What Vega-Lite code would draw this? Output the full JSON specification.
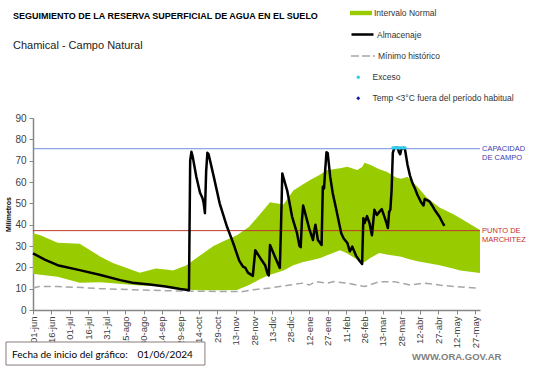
{
  "$schema": "https://vega.github.io/schema/vega-lite/v6.json",
  "autosize": {"type": "none"},
  "padding": {"left": 33, "top": 118, "right": 61, "bottom": 58},
  "width": 447,
  "height": 192,
  "background": "white",
  "config": {
    "view": {"stroke": null},
    "font": "Liberation Sans"
  },
  "title": {
    "text": "SEGUIMIENTO DE LA RESERVA  SUPERFICIAL DE AGUA EN EL SUELO",
    "subtitle": "Chamical - Campo Natural",
    "anchor": "start",
    "frame": "group",
    "dx": -20,
    "offset": -49,
    "font": "Liberation Sans",
    "fontSize": 9,
    "fontWeight": "bold",
    "color": "#000000",
    "subtitleFont": "Liberation Sans",
    "subtitleFontSize": 11,
    "subtitleColor": "#222222",
    "subtitlePadding": 19
  },
  "resolve": {"scale": {"color": "independent"}, "legend": {"color": "independent"}},
  "layer": [
    {
      "data": {
        "values": [
          {"fecha": "2024-06-01", "sup": 36, "inf": 17},
          {"fecha": "2024-06-07", "sup": 35, "inf": 16.5},
          {"fecha": "2024-06-21", "sup": 31.5, "inf": 15.6},
          {"fecha": "2024-07-09", "sup": 31, "inf": 12.8},
          {"fecha": "2024-07-26", "sup": 25, "inf": 13},
          {"fecha": "2024-08-05", "sup": 22, "inf": 12.5},
          {"fecha": "2024-08-22", "sup": 18.5, "inf": 11.7},
          {"fecha": "2024-08-27", "sup": 17.5, "inf": 11.5},
          {"fecha": "2024-09-09", "sup": 19.5, "inf": 11.2},
          {"fecha": "2024-09-17", "sup": 19, "inf": 11},
          {"fecha": "2024-09-23", "sup": 18.5, "inf": 10.5},
          {"fecha": "2024-10-04", "sup": 21, "inf": 9.5},
          {"fecha": "2024-10-15", "sup": 25.5, "inf": 9.3},
          {"fecha": "2024-10-26", "sup": 30, "inf": 9.2},
          {"fecha": "2024-11-04", "sup": 32.5, "inf": 9.3},
          {"fecha": "2024-11-14", "sup": 35, "inf": 9.4},
          {"fecha": "2024-11-24", "sup": 39, "inf": 11.7},
          {"fecha": "2024-12-03", "sup": 45, "inf": 14.5},
          {"fecha": "2024-12-11", "sup": 50.5, "inf": 16.5},
          {"fecha": "2024-12-22", "sup": 49.5, "inf": 18.5},
          {"fecha": "2024-12-30", "sup": 56, "inf": 21},
          {"fecha": "2025-01-07", "sup": 59, "inf": 22.5},
          {"fecha": "2025-01-13", "sup": 61, "inf": 23.2},
          {"fecha": "2025-01-21", "sup": 63.5, "inf": 24.4},
          {"fecha": "2025-01-26", "sup": 65.5, "inf": 25.5},
          {"fecha": "2025-02-06", "sup": 66.5, "inf": 28},
          {"fecha": "2025-02-12", "sup": 67.2, "inf": 26.5},
          {"fecha": "2025-02-20", "sup": 65.6, "inf": 23.5},
          {"fecha": "2025-02-24", "sup": 67, "inf": 22},
          {"fecha": "2025-02-26", "sup": 69, "inf": 22.5},
          {"fecha": "2025-03-03", "sup": 68, "inf": 24.5},
          {"fecha": "2025-03-10", "sup": 66, "inf": 26.7},
          {"fecha": "2025-03-16", "sup": 64.8, "inf": 26},
          {"fecha": "2025-03-24", "sup": 62, "inf": 25.3},
          {"fecha": "2025-03-28", "sup": 61.5, "inf": 25},
          {"fecha": "2025-04-02", "sup": 62.5, "inf": 24},
          {"fecha": "2025-04-10", "sup": 57.8, "inf": 22.8},
          {"fecha": "2025-04-18", "sup": 52.5, "inf": 22},
          {"fecha": "2025-04-28", "sup": 48, "inf": 21},
          {"fecha": "2025-05-09", "sup": 45, "inf": 19.5},
          {"fecha": "2025-05-15", "sup": 43, "inf": 18.5},
          {"fecha": "2025-05-31", "sup": 37.5, "inf": 17.4}
        ],
        "format": {"parse": {"fecha": "date:'%Y-%m-%d'"}}
      },
      "mark": {"type": "area", "opacity": 1},
      "encoding": {
        "x": {
          "field": "fecha", "type": "temporal",
          "scale": {"domain": [{"year": 2024, "month": 6, "date": 1}, {"year": 2025, "month": 5, "date": 31}]},
          "axis": {
            "title": null,
            "grid": false,
            "tickCount": 40,
            "values": [
              {"year": 2024, "month": 6, "date": 1}, {"year": 2024, "month": 6, "date": 16},
              {"year": 2024, "month": 7, "date": 1}, {"year": 2024, "month": 7, "date": 16},
              {"year": 2024, "month": 7, "date": 31}, {"year": 2024, "month": 8, "date": 15},
              {"year": 2024, "month": 8, "date": 30}, {"year": 2024, "month": 9, "date": 14},
              {"year": 2024, "month": 9, "date": 29}, {"year": 2024, "month": 10, "date": 14},
              {"year": 2024, "month": 10, "date": 29}, {"year": 2024, "month": 11, "date": 13},
              {"year": 2024, "month": 11, "date": 28}, {"year": 2024, "month": 12, "date": 13},
              {"year": 2024, "month": 12, "date": 28}, {"year": 2025, "month": 1, "date": 12},
              {"year": 2025, "month": 1, "date": 27}, {"year": 2025, "month": 2, "date": 11},
              {"year": 2025, "month": 2, "date": 26}, {"year": 2025, "month": 3, "date": 13},
              {"year": 2025, "month": 3, "date": 28}, {"year": 2025, "month": 4, "date": 12},
              {"year": 2025, "month": 4, "date": 27}, {"year": 2025, "month": 5, "date": 12},
              {"year": 2025, "month": 5, "date": 27}
            ],
            "labelExpr": "timeFormat(datum.value, '%d') + '-' + ['ene','feb','mar','abr','may','jun','jul','ago','sep','oct','nov','dic'][month(datum.value)]",
            "labelAngle": -90,
            "labelOverlap": false,
            "labelBound": false,
            "labelFlush": false,
            "labelFont": "Liberation Sans",
            "labelFontSize": 9.5,
            "labelColor": "#404040",
            "labelPadding": 2,
            "tickSize": 4,
            "tickColor": "#868686",
            "domainColor": "#868686",
            "domainWidth": 1.5
          }
        },
        "y": {
          "field": "sup", "type": "quantitative",
          "scale": {"domain": [0, 90], "nice": false, "zero": false},
          "axis": {
            "title": "Milímetros",
            "titleFont": "Liberation Sans",
            "titleFontSize": 7,
            "titleFontWeight": "bold",
            "titleColor": "#000000",
            "titlePadding": 3,
            "grid": false,
            "tickCount": 20,
            "values": [0, 10, 20, 30, 40, 50, 60, 70, 80, 90],
            "labelOverlap": false,
            "labelFont": "Liberation Sans",
            "labelFontSize": 10,
            "labelColor": "#404040",
            "labelPadding": 3,
            "tickSize": 4,
            "tickColor": "#868686",
            "domainColor": "#868686",
            "domainWidth": 1.5
          }
        },
        "y2": {"field": "inf"},
        "color": {
          "datum": "Intervalo Normal",
          "scale": {"range": ["#99cc00"]},
          "legend": {
            "orient": "none", "legendX": 317, "legendY": -116, "title": null, "padding": 0,
            "symbolType": "M-1,-0.2L1,-0.2L1,0.2L-1,0.2Z", "symbolSize": 484, "symbolStrokeWidth": 0,
            "labelFont": "Liberation Sans", "labelFontSize": 8.5, "labelColor": "#333333", "labelOffset": 2
          }
        }
      }
    },
    {
      "data": {
        "values": [
          {"fecha": "2024-06-01", "valor": 10.3},
          {"fecha": "2024-06-06", "valor": 11},
          {"fecha": "2024-06-21", "valor": 11},
          {"fecha": "2024-07-11", "valor": 10.5},
          {"fecha": "2024-07-26", "valor": 10},
          {"fecha": "2024-08-22", "valor": 9.5},
          {"fecha": "2024-09-19", "valor": 9},
          {"fecha": "2024-10-09", "valor": 8.8},
          {"fecha": "2024-11-18", "valor": 8.6},
          {"fecha": "2024-11-26", "valor": 9.4},
          {"fecha": "2024-12-11", "valor": 10.3},
          {"fecha": "2024-12-27", "valor": 11.7},
          {"fecha": "2025-01-07", "valor": 12.6},
          {"fecha": "2025-01-12", "valor": 11.7},
          {"fecha": "2025-01-17", "valor": 13.3},
          {"fecha": "2025-01-27", "valor": 12.6},
          {"fecha": "2025-02-01", "valor": 13.3},
          {"fecha": "2025-02-12", "valor": 12.6},
          {"fecha": "2025-02-26", "valor": 11},
          {"fecha": "2025-03-10", "valor": 13.3},
          {"fecha": "2025-03-22", "valor": 13.3},
          {"fecha": "2025-04-04", "valor": 11.7},
          {"fecha": "2025-04-16", "valor": 12.6},
          {"fecha": "2025-04-28", "valor": 11.7},
          {"fecha": "2025-05-10", "valor": 11},
          {"fecha": "2025-05-29", "valor": 10.3}
        ],
        "format": {"parse": {"fecha": "date:'%Y-%m-%d'"}}
      },
      "mark": {"type": "line", "strokeWidth": 1.5, "strokeDash": [7, 4]},
      "encoding": {
        "x": {"field": "fecha", "type": "temporal"},
        "y": {"field": "valor", "type": "quantitative"},
        "color": {
          "datum": "Mínimo histórico",
          "scale": {"range": ["#a6a6a6"]},
          "legend": {
            "orient": "none", "legendX": 317, "legendY": -75, "title": null, "padding": 0,
            "symbolType": "M-1,0L1,0", "symbolSize": 576, "symbolStrokeWidth": 1.5, "symbolDash": [8, 3],
            "labelFont": "Liberation Sans", "labelFontSize": 8.5, "labelColor": "#333333", "labelOffset": 2
          }
        }
      }
    },
    {
      "data": {"values": [{}]},
      "mark": {"type": "rule", "color": "#7090dd", "strokeWidth": 1},
      "encoding": {"y": {"datum": 75.6}}
    },
    {
      "data": {"values": [{}]},
      "mark": {"type": "rule", "color": "#c0392b", "strokeWidth": 1},
      "encoding": {"y": {"datum": 37.2}}
    },
    {
      "data": {
        "values": [
          {"fecha": "2024-06-01", "valor": 26.5},
          {"fecha": "2024-06-11", "valor": 23.5},
          {"fecha": "2024-06-21", "valor": 21},
          {"fecha": "2024-07-09", "valor": 18.7},
          {"fecha": "2024-07-26", "valor": 16.4},
          {"fecha": "2024-08-11", "valor": 14},
          {"fecha": "2024-08-21", "valor": 12.8},
          {"fecha": "2024-09-04", "valor": 12},
          {"fecha": "2024-09-17", "valor": 11},
          {"fecha": "2024-09-29", "valor": 9.8},
          {"fecha": "2024-10-05", "valor": 9.4},
          {"fecha": "2024-10-06", "valor": 9.3},
          {"fecha": "2024-10-07", "valor": 70},
          {"fecha": "2024-10-08", "valor": 74.2},
          {"fecha": "2024-10-09", "valor": 72},
          {"fecha": "2024-10-12", "valor": 62.5},
          {"fecha": "2024-10-15", "valor": 55},
          {"fecha": "2024-10-17", "valor": 52.5},
          {"fecha": "2024-10-18", "valor": 50},
          {"fecha": "2024-10-19", "valor": 45.4},
          {"fecha": "2024-10-20", "valor": 65},
          {"fecha": "2024-10-21", "valor": 73.7},
          {"fecha": "2024-10-22", "valor": 73},
          {"fecha": "2024-10-26", "valor": 63},
          {"fecha": "2024-10-31", "valor": 50},
          {"fecha": "2024-11-06", "valor": 39},
          {"fecha": "2024-11-11", "valor": 31.4},
          {"fecha": "2024-11-16", "valor": 23},
          {"fecha": "2024-11-19", "valor": 20.3},
          {"fecha": "2024-11-21", "valor": 19.7},
          {"fecha": "2024-11-23", "valor": 17.5},
          {"fecha": "2024-11-27", "valor": 16},
          {"fecha": "2024-11-28", "valor": 22},
          {"fecha": "2024-11-29", "valor": 28},
          {"fecha": "2024-12-03", "valor": 24.4},
          {"fecha": "2024-12-07", "valor": 21},
          {"fecha": "2024-12-09", "valor": 17},
          {"fecha": "2024-12-10", "valor": 16.2},
          {"fecha": "2024-12-11", "valor": 30.5},
          {"fecha": "2024-12-15", "valor": 25},
          {"fecha": "2024-12-19", "valor": 19.7},
          {"fecha": "2024-12-20", "valor": 40},
          {"fecha": "2024-12-21", "valor": 64},
          {"fecha": "2024-12-22", "valor": 62},
          {"fecha": "2024-12-25", "valor": 56},
          {"fecha": "2024-12-29", "valor": 43.7},
          {"fecha": "2025-01-02", "valor": 36},
          {"fecha": "2025-01-04", "valor": 30},
          {"fecha": "2025-01-05", "valor": 29.5},
          {"fecha": "2025-01-06", "valor": 42},
          {"fecha": "2025-01-07", "valor": 49},
          {"fecha": "2025-01-12", "valor": 38},
          {"fecha": "2025-01-15", "valor": 32.8},
          {"fecha": "2025-01-16", "valor": 37},
          {"fecha": "2025-01-17", "valor": 40},
          {"fecha": "2025-01-19", "valor": 32.8},
          {"fecha": "2025-01-22", "valor": 30.5},
          {"fecha": "2025-01-23", "valor": 57.8},
          {"fecha": "2025-01-24", "valor": 57},
          {"fecha": "2025-01-25", "valor": 66},
          {"fecha": "2025-01-26", "valor": 74},
          {"fecha": "2025-01-27", "valor": 73.5},
          {"fecha": "2025-01-29", "valor": 62.5},
          {"fecha": "2025-01-31", "valor": 55},
          {"fecha": "2025-02-03", "valor": 47},
          {"fecha": "2025-02-07", "valor": 36},
          {"fecha": "2025-02-09", "valor": 33.5},
          {"fecha": "2025-02-12", "valor": 31.4},
          {"fecha": "2025-02-14", "valor": 27.5},
          {"fecha": "2025-02-16", "valor": 29.7},
          {"fecha": "2025-02-19", "valor": 25.5},
          {"fecha": "2025-02-22", "valor": 23},
          {"fecha": "2025-02-24", "valor": 21.6},
          {"fecha": "2025-02-25", "valor": 43},
          {"fecha": "2025-02-26", "valor": 40.8},
          {"fecha": "2025-02-28", "valor": 44},
          {"fecha": "2025-03-02", "valor": 40.8},
          {"fecha": "2025-03-04", "valor": 35},
          {"fecha": "2025-03-06", "valor": 47},
          {"fecha": "2025-03-08", "valor": 44.5},
          {"fecha": "2025-03-10", "valor": 46},
          {"fecha": "2025-03-12", "valor": 47.3},
          {"fecha": "2025-03-14", "valor": 44},
          {"fecha": "2025-03-16", "valor": 40.5},
          {"fecha": "2025-03-17", "valor": 38.4},
          {"fecha": "2025-03-18", "valor": 46},
          {"fecha": "2025-03-19", "valor": 47},
          {"fecha": "2025-03-20", "valor": 56},
          {"fecha": "2025-03-21", "valor": 73.6},
          {"fecha": "2025-03-22", "valor": 75.5},
          {"fecha": "2025-03-23", "valor": 76},
          {"fecha": "2025-03-25", "valor": 76},
          {"fecha": "2025-03-26", "valor": 74},
          {"fecha": "2025-03-27", "valor": 73},
          {"fecha": "2025-03-28", "valor": 75.5},
          {"fecha": "2025-03-30", "valor": 76},
          {"fecha": "2025-03-31", "valor": 75},
          {"fecha": "2025-04-02", "valor": 68},
          {"fecha": "2025-04-04", "valor": 63},
          {"fecha": "2025-04-06", "valor": 59.5},
          {"fecha": "2025-04-08", "valor": 57},
          {"fecha": "2025-04-10", "valor": 54},
          {"fecha": "2025-04-13", "valor": 50.5},
          {"fecha": "2025-04-15", "valor": 49},
          {"fecha": "2025-04-16", "valor": 52},
          {"fecha": "2025-04-18", "valor": 51.5},
          {"fecha": "2025-04-20", "valor": 50.8},
          {"fecha": "2025-04-22", "valor": 49},
          {"fecha": "2025-04-24", "valor": 47},
          {"fecha": "2025-04-28", "valor": 43.7},
          {"fecha": "2025-04-30", "valor": 41.5},
          {"fecha": "2025-05-02", "valor": 39.4}
        ],
        "format": {"parse": {"fecha": "date:'%Y-%m-%d'"}}
      },
      "mark": {"type": "line", "strokeWidth": 2.5, "strokeJoin": "round"},
      "encoding": {
        "x": {"field": "fecha", "type": "temporal"},
        "y": {"field": "valor", "type": "quantitative"},
        "color": {
          "datum": "Almacenaje",
          "scale": {"range": ["#000000"]},
          "legend": {
            "orient": "none", "legendX": 317, "legendY": -96, "title": null, "padding": 0,
            "symbolType": "M-1,0L1,0", "symbolSize": 484, "symbolStrokeWidth": 2.5,
            "labelFont": "Liberation Sans", "labelFontSize": 8.5, "labelColor": "#333333", "labelOffset": 2
          }
        }
      }
    },
    {
      "data": {
        "values": [
          {"fecha": "2025-03-21", "valor": 76},
          {"fecha": "2025-03-22", "valor": 76},
          {"fecha": "2025-03-23", "valor": 76},
          {"fecha": "2025-03-24", "valor": 76},
          {"fecha": "2025-03-25", "valor": 76},
          {"fecha": "2025-03-26", "valor": 76},
          {"fecha": "2025-03-27", "valor": 76},
          {"fecha": "2025-03-28", "valor": 76},
          {"fecha": "2025-03-29", "valor": 76},
          {"fecha": "2025-03-30", "valor": 76},
          {"fecha": "2025-03-31", "valor": 76}
        ],
        "format": {"parse": {"fecha": "date:'%Y-%m-%d'"}}
      },
      "mark": {"type": "point", "filled": true, "size": 10, "opacity": 1},
      "encoding": {
        "x": {"field": "fecha", "type": "temporal"},
        "y": {"field": "valor", "type": "quantitative"},
        "color": {
          "datum": "Exceso",
          "scale": {"range": ["#33ccee"]},
          "legend": {
            "orient": "none", "legendX": 321, "legendY": -45, "title": null, "padding": 0,
            "symbolType": "circle", "symbolSize": 12,
            "labelFont": "Liberation Sans", "labelFontSize": 8.5, "labelColor": "#333333", "labelOffset": 10
          }
        }
      }
    },
    {
      "data": {"values": []},
      "mark": {"type": "point", "filled": true, "shape": "diamond", "size": 16, "opacity": 1},
      "encoding": {
        "x": {"field": "fecha", "type": "temporal"},
        "y": {"field": "valor", "type": "quantitative"},
        "color": {
          "datum": "Temp <3°C fuera del período habitual",
          "scale": {"range": ["#1a1aa6"]},
          "legend": {
            "orient": "none", "legendX": 321, "legendY": -24, "title": null, "padding": 0,
            "symbolType": "diamond", "symbolSize": 16,
            "labelFont": "Liberation Sans", "labelFontSize": 8.5, "labelColor": "#333333", "labelOffset": 10
          }
        }
      }
    },
    {
      "data": {"values": [{}]},
      "mark": {"type": "text", "align": "left", "baseline": "middle", "dx": 2, "font": "Liberation Sans", "fontSize": 7.5, "color": "#4040b0", "lineBreak": "\n", "lineHeight": 9.5},
      "encoding": {
        "x": {"datum": {"year": 2025, "month": 5, "date": 31}},
        "y": {"datum": 75.6},
        "text": {"value": "CAPACIDAD\nDE  CAMPO"}
      }
    },
    {
      "data": {"values": [{}]},
      "mark": {"type": "text", "align": "left", "baseline": "middle", "dx": 2, "font": "Liberation Sans", "fontSize": 7.5, "color": "#c42d2d", "lineBreak": "\n", "lineHeight": 9.5},
      "encoding": {
        "x": {"datum": {"year": 2025, "month": 5, "date": 31}},
        "y": {"datum": 37.2},
        "text": {"value": "PUNTO  DE\nMARCHITEZ"}
      }
    },
    {
      "data": {"values": [{}]},
      "mark": {"type": "rect", "fill": "white", "stroke": "#8c7b7b", "strokeWidth": 1},
      "encoding": {
        "x": {"datum": {"year": 2024, "month": 5, "date": 10}},
        "x2": {"datum": {"year": 2024, "month": 10, "date": 19}},
        "y": {"datum": -15},
        "y2": {"datum": -25.8}
      }
    },
    {
      "data": {"values": [{}]},
      "mark": {"type": "text", "align": "left", "baseline": "middle", "font": "Lato", "fontSize": 10, "color": "#000000"},
      "encoding": {
        "x": {"datum": {"year": 2024, "month": 5, "date": 15}},
        "y": {"datum": -21},
        "text": {"value": "Fecha de inicio del gráfico:"}
      }
    },
    {
      "data": {"values": [{}]},
      "mark": {"type": "text", "align": "left", "baseline": "middle", "font": "Lato", "fontSize": 10, "color": "#000000"},
      "encoding": {
        "x": {"datum": {"year": 2024, "month": 8, "date": 25}},
        "y": {"datum": -21},
        "text": {"value": "01/06/2024"}
      }
    },
    {
      "data": {"values": [{}]},
      "mark": {"type": "text", "align": "center", "baseline": "middle", "font": "Liberation Sans", "fontSize": 9.5, "fontWeight": "bold", "color": "#7f7f7f"},
      "encoding": {
        "x": {"datum": {"year": 2025, "month": 5, "date": 12}},
        "y": {"datum": -22},
        "text": {"value": "WWW.ORA.GOV.AR"}
      }
    }
  ]
}
